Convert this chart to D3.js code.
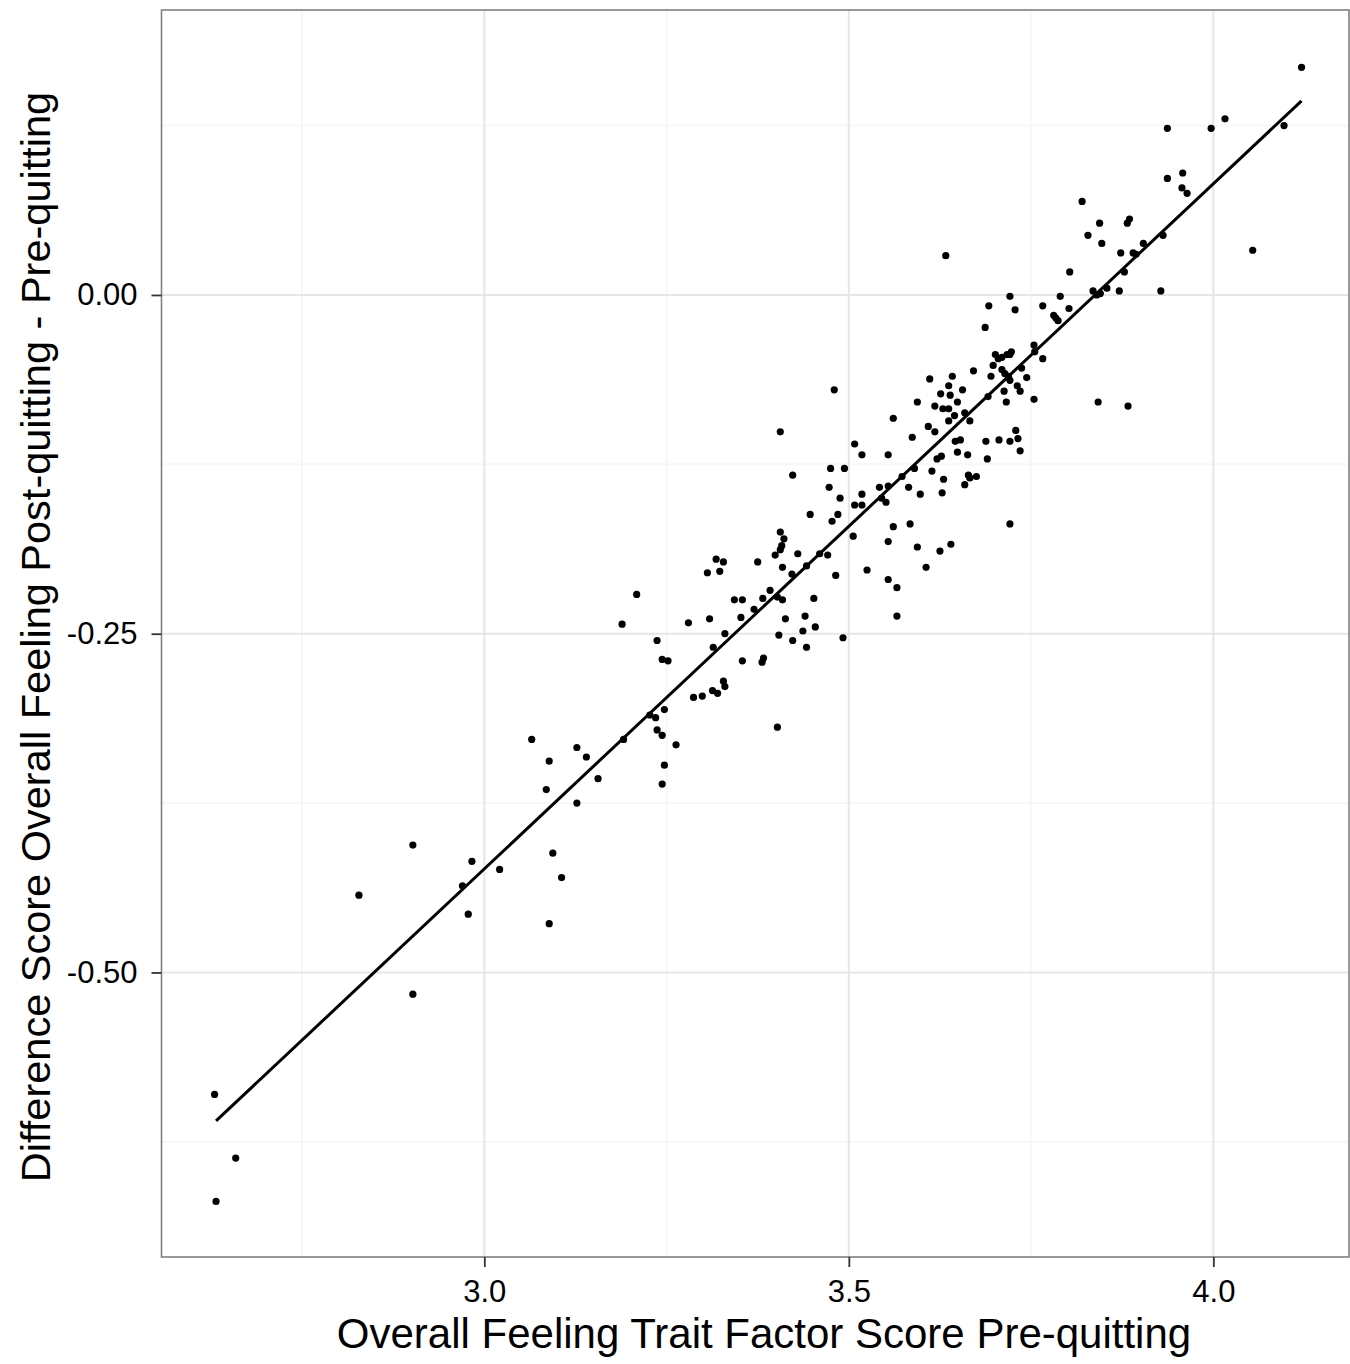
<!DOCTYPE html>
<html>
<head>
<meta charset="utf-8">
<script src="https://cdn.jsdelivr.net/npm/d3@7"></script>
<style>
  html, body { margin: 0; padding: 0; background: #ffffff; }
  svg { display: block; }
</style>
</head>
<body>
<svg id="chart" width="1350" height="1364"></svg>
<script>
// ---- Data ----
const xValues = [
  2.630, 2.659, 2.632, 2.828, 2.902, 2.902, 2.970, 2.983, 2.978, 3.021,
  3.065, 3.089, 3.085, 3.094, 3.106, 3.089, 3.127, 3.140, 3.156, 3.127,
  3.191, 3.227, 3.235, 3.247, 3.237, 3.244, 3.263, 3.247, 3.244, 3.189,
  3.209, 3.237, 3.244, 3.252, 3.280, 3.287, 3.299, 3.306, 3.318, 3.328,
  3.323, 3.309, 3.330, 3.314, 3.313, 3.320, 3.328, 3.330, 3.343, 3.354,
  3.352, 3.354, 3.370, 3.375, 3.382, 3.381, 3.383, 3.392, 3.399, 3.406,
  3.411, 3.408, 3.406, 3.409, 3.402, 3.409, 3.413, 3.404, 3.423, 3.402,
  3.430, 3.422, 3.442, 3.440, 3.452, 3.437, 3.454, 3.442, 3.460, 3.471,
  3.477, 3.482, 3.492, 3.506, 3.525, 3.480, 3.406, 3.423, 3.508, 3.518,
  3.475, 3.494, 3.473, 3.488, 3.447, 3.485, 3.508, 3.518, 3.518,
  3.542, 3.554, 3.545, 3.551, 3.582, 3.573, 3.590, 3.554, 3.561, 3.587,
  3.594, 3.598, 3.561, 3.584, 3.554, 3.594, 3.611, 3.609, 3.618, 3.618,
  3.626, 3.614, 3.630, 3.628, 3.621, 3.627, 3.629, 3.637, 3.637, 3.642,
  3.639, 3.649, 3.645, 3.637, 3.656, 3.646, 3.653, 3.649, 3.663, 3.659,
  3.666, 3.664, 3.666, 3.659, 3.675, 3.671, 3.688, 3.690, 3.695, 3.698,
  3.706, 3.713, 3.716, 3.729, 3.732, 3.735, 3.731, 3.735, 3.737, 3.744,
  3.754, 3.721, 3.721, 3.710, 3.714, 3.719, 3.721, 3.691, 3.721, 3.790,
  3.692, 3.728, 3.766, 3.802, 3.781, 3.784, 3.787, 3.687, 3.701, 3.705,
  3.710, 3.717, 3.723, 3.721, 3.754, 3.755, 3.766, 3.625, 3.640, 3.606,
  3.554, 3.566, 3.566, 3.820, 3.844, 3.828, 3.847, 3.885, 3.882, 3.873,
  3.890, 3.894, 3.904, 3.931, 3.957, 3.964, 3.803, 3.878, 3.835, 3.840,
  3.845, 3.854, 3.871, 3.928, 3.842, 3.883, 4.054, 4.121, 3.937, 3.997,
  4.016, 4.097, 3.937, 3.958, 3.633
];
const yValues = [
  -0.590, -0.637, -0.669, -0.443, -0.406, -0.516, -0.436, -0.418, -0.457, -0.424,
  -0.328, -0.344, -0.365, -0.412, -0.430, -0.464, -0.334, -0.341, -0.357, -0.375,
  -0.328, -0.310, -0.312, -0.306, -0.321, -0.325, -0.332, -0.347, -0.361, -0.243,
  -0.221, -0.255, -0.269, -0.270, -0.242, -0.297, -0.296, -0.205, -0.195, -0.197,
  -0.204, -0.239, -0.250, -0.260, -0.292, -0.294, -0.285, -0.289, -0.225, -0.225,
  -0.238, -0.270, -0.232, -0.197, -0.224, -0.271, -0.268, -0.218, -0.192, -0.175,
  -0.180, -0.185, -0.188, -0.201, -0.223, -0.225, -0.239, -0.251, -0.255, -0.319,
  -0.191, -0.206, -0.200, -0.237, -0.224, -0.248, -0.245, -0.260, -0.191, -0.192,
  -0.167, -0.207, -0.253, -0.178, -0.203, -0.070, -0.101, -0.133, -0.110, -0.118,
  -0.128, -0.128, -0.142, -0.150, -0.162, -0.162, -0.155, -0.147, -0.155,
  -0.142, -0.141, -0.150, -0.153, -0.142, -0.134, -0.128, -0.118, -0.091, -0.105,
  -0.079, -0.147, -0.171, -0.169, -0.182, -0.186, -0.062, -0.097, -0.101, -0.082,
  -0.073, -0.130, -0.136, -0.146, -0.121, -0.119, -0.084, -0.084, -0.067, -0.060,
  -0.074, -0.079, -0.089, -0.093, -0.070, -0.108, -0.107, -0.116, -0.118, -0.087,
  -0.093, -0.133, -0.135, -0.140, -0.134, -0.056, -0.108, -0.121, -0.060, -0.052,
  -0.107, -0.071, -0.079, -0.100, -0.106, -0.115, -0.067, -0.071, -0.054, -0.061,
  -0.077, -0.169, -0.108, -0.055, -0.058, -0.060, -0.063, -0.075, -0.001, -0.001,
  -0.008, -0.011, -0.008, -0.010, -0.015, -0.017, -0.019, -0.024, -0.044, -0.047,
  -0.046, -0.044, -0.042, -0.044, -0.037, -0.042, -0.047, -0.189, -0.184, -0.201,
  -0.210, -0.216, -0.237, 0.069, 0.053, 0.044, 0.038, 0.056, 0.053, 0.031,
  0.031, 0.030, 0.038, 0.044, 0.079, 0.075, 0.017, 0.017, 0.003, 0.000,
  0.001, 0.005, 0.003, 0.003, -0.079, -0.082, 0.033, 0.168, 0.123, 0.123,
  0.130, 0.125, 0.086, 0.090, 0.029
];
// fitted regression line end points
const fitX = [2.632, 4.121];
const fitY = [-0.6096, 0.1432];

const xTicks = [3.0, 3.5, 4.0];
const xTickLabels = ["3.0", "3.5", "4.0"];
const yTicks = [0.00, -0.25, -0.50];
const yTickLabels = ["0.00", "-0.25", "-0.50"];
const xMinor = [2.75, 3.25, 3.75];
const yMinor = [0.125, -0.125, -0.375, -0.625];

const xTitle = "Overall Feeling Trait Factor Score Pre-quitting";
const yTitle = "Difference Score Overall Feeling Post-quitting - Pre-quitting";

// ---- Layout ----
const panel = { left: 161.5, top: 10, right: 1349, bottom: 1257 };
const FONT = "'Liberation Sans', Arial, Helvetica, sans-serif";

const svg = d3.select("#chart");

const x = d3.scaleLinear().domain([2.5572, 4.1861]).range([panel.left, panel.right]);
const y = d3.scaleLinear().domain([-0.7100, 0.2103]).range([panel.bottom, panel.top]);

const pw = panel.right - panel.left, ph = panel.bottom - panel.top;

svg.append("rect")
  .attr("x", panel.left).attr("y", panel.top)
  .attr("width", pw).attr("height", ph)
  .attr("fill", "#ffffff");

const grid = svg.append("g");
grid.selectAll("line.xminor").data(xMinor).enter().append("line")
  .attr("x1", d => x(d)).attr("x2", d => x(d))
  .attr("y1", panel.top).attr("y2", panel.bottom)
  .attr("stroke", "#f7f7f7").attr("stroke-width", 2);
grid.selectAll("line.yminor").data(yMinor).enter().append("line")
  .attr("y1", d => y(d)).attr("y2", d => y(d))
  .attr("x1", panel.left).attr("x2", panel.right)
  .attr("stroke", "#f7f7f7").attr("stroke-width", 2);
grid.selectAll("line.xmajor").data(xTicks).enter().append("line")
  .attr("x1", d => x(d)).attr("x2", d => x(d))
  .attr("y1", panel.top).attr("y2", panel.bottom)
  .attr("stroke", "#e6e6e6").attr("stroke-width", 2);
grid.selectAll("line.ymajor").data(yTicks).enter().append("line")
  .attr("y1", d => y(d)).attr("y2", d => y(d))
  .attr("x1", panel.left).attr("x2", panel.right)
  .attr("stroke", "#e6e6e6").attr("stroke-width", 2);

// points
svg.append("g").selectAll("circle").data(xValues.map((v, i) => [v, yValues[i]]))
  .enter().append("circle")
  .attr("cx", d => x(d[0])).attr("cy", d => y(d[1]))
  .attr("r", 3.6).attr("fill", "#000000");

// regression line
svg.append("path")
  .datum(fitX.map((v, i) => [v, fitY[i]]))
  .attr("d", d3.line().x(d => x(d[0])).y(d => y(d[1])))
  .attr("fill", "none").attr("stroke", "#000000").attr("stroke-width", 3);

// panel border
svg.append("rect")
  .attr("x", panel.left).attr("y", panel.top)
  .attr("width", pw).attr("height", ph)
  .attr("fill", "none").attr("stroke", "#808080").attr("stroke-width", 1.6);

// axes
const xAxis = d3.axisBottom(x).tickValues(xTicks)
  .tickFormat((d, i) => xTickLabels[i]).tickSize(10).tickPadding(13);
const yAxis = d3.axisLeft(y).tickValues(yTicks)
  .tickFormat((d, i) => yTickLabels[i]).tickSize(10).tickPadding(14);

const gx = svg.append("g").attr("transform", `translate(0,${panel.bottom})`).call(xAxis);
const gy = svg.append("g").attr("transform", `translate(${panel.left},0)`).call(yAxis);
[gx, gy].forEach(g => {
  g.select(".domain").remove();
  g.selectAll(".tick line").attr("stroke", "#333333").attr("stroke-width", 1.8);
  g.selectAll(".tick text")
    .attr("fill", "#000000")
    .style("font-family", FONT)
    .style("font-size", "31px");
});

// axis titles
svg.append("text")
  .attr("x", 764).attr("y", 1348)
  .attr("text-anchor", "middle")
  .style("font-family", FONT).style("font-size", "42px")
  .attr("fill", "#000000")
  .text(xTitle);

svg.append("text")
  .attr("transform", "translate(50,637) rotate(-90)")
  .attr("text-anchor", "middle")
  .style("font-family", FONT).style("font-size", "41.5px")
  .attr("fill", "#000000")
  .text(yTitle);
</script>
</body>
</html>
